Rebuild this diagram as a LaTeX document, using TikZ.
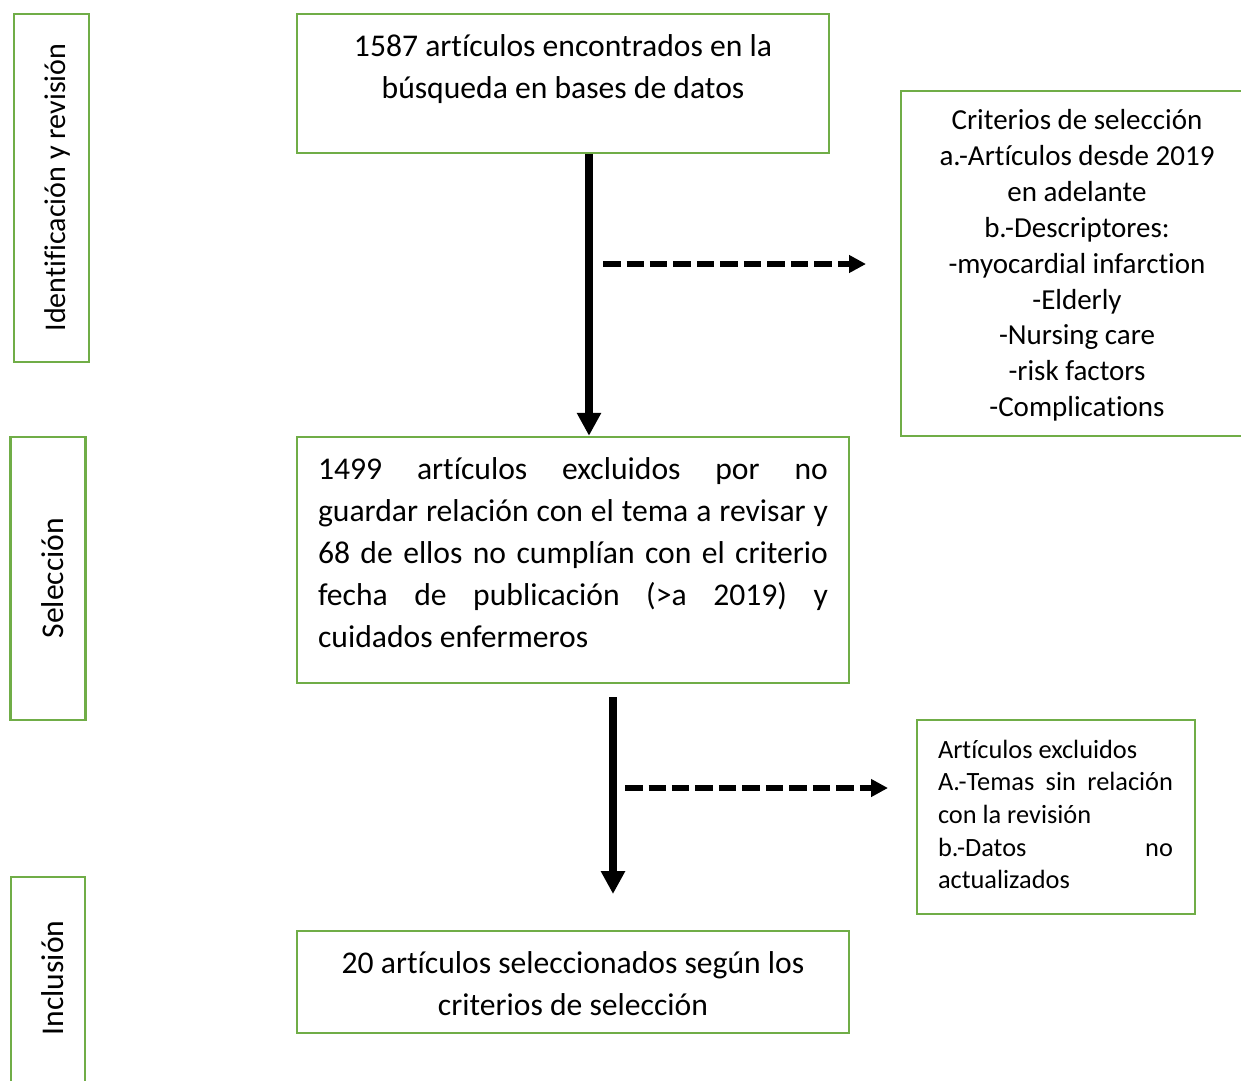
\documentclass[tikz,border=0pt]{standalone}
\usepackage{fontspec}
\setmainfont{Carlito}[Ligatures=NoCommon]
\usetikzlibrary{arrows.meta, positioning}

\begin{document}
\begin{tikzpicture}[
    x=0.02cm, y=-0.02cm,
    % Styles
    stagebox/.style={
        rectangle, draw=boxgreen, line width=1.4pt,
        minimum height=1.5cm, inner sep=0pt
    },
    flowbox/.style={
        rectangle, draw=boxgreen, line width=1.4pt, inner sep=0pt
    },
    stagetext/.style={
        rotate=90, font=\fontsize{18}{23.8}\selectfont, inner sep=0pt
    },
    flowtext/.style={
        font=\fontsize{18}{23.8}\selectfont, align=center, inner sep=0pt
    },
    arrow/.style={
        -{Triangle[length=0.46cm, width=0.46cm]}, line width=4.5pt
    },
    dasharrow/.style={
        -{Triangle[length=0.34cm, width=0.34cm]}, line width=3.4pt,
        dash pattern=on 0.35cm off 0.12cm
    },
]
% Define colors
\definecolor{boxgreen}{RGB}{112,173,71}

\useasboundingbox (0,0) rectangle (1241,1080);

% Stage labels
\node[stagebox, rotate=90, minimum width=6.96cm] (idbox) at (51.5,188) {};
\node[stagetext, font=\fontsize{17.1}{22}\selectfont] (idlabel) at (57,187.5) {Identificación y revisión};
\node[stagebox, rotate=90, minimum width=5.66cm] (selbox) at (48,578.5) {};
\node[stagetext] (sellabel) at (53,578) {Selección};
\node[stagebox, rotate=90, minimum width=4.16cm, minimum height=1.48cm] (incbox) at (48,981) {};
\node[stagetext] (inclabel) at (53,978) {Inclusión};

% Search
\node[flowbox, minimum width=10.64cm, minimum height=2.78cm] (search) at (563,83.5) {};
\node[flowtext] (searchtext) at (563,69) {1587 artículos encontrados en la\\búsqueda en bases de datos};

% Selection criteria
\node[flowbox, minimum width=6.98cm, minimum height=6.9cm] (criteria) at (1075.5,263.5) {};
\node[flowtext, font=\fontsize{16.5}{20.4}\selectfont] (criteriatext) at (1077,265.5)
    {Criterios de selección\\a.-Artículos desde 2019\\en adelante\\b.-Descriptores:\\-myocardial infarction\\-Elderly\\-Nursing care\\-risk factors\\-Complications};

% Excluded after screening
\node[flowbox, minimum width=11.04cm, minimum height=4.92cm] (excluded) at (573,560) {};
\node[flowtext, text width=10.2cm, align=justify] (excludedtext) at (573,552.5)
    {1499 artículos excluidos por no\linebreak guardar relación con el tema a revisar y\linebreak 68 de ellos no cumplían con el criterio\linebreak fecha de publicación (>a 2019) y\linebreak cuidados enfermeros};

% Reasons for exclusion
\node[flowbox, minimum width=5.56cm, minimum height=3.88cm] (reasons) at (1056,817) {};
\node[flowtext, font=\fontsize{15}{18.6}\selectfont, text width=4.7cm, align=justify] (reasonstext) at (1055.5,814.5)
    {Artículos excluidos\\A.-Temas sin relación\linebreak con la revisión\\b.-Datos no\linebreak actualizados};

% Included
\node[flowbox, minimum width=11.04cm, minimum height=2.04cm] (included) at (573,982) {};
\node[flowtext] (includedtext) at (573,984) {20 artículos seleccionados según los\\criterios de selección};

% Arrows
\coordinate (down1) at (589,0);
\draw[arrow] (search.south -| down1) -- (excluded.north -| down1);
\coordinate (side1) at (603,264);
\coordinate (side1end) at (866,264);
\draw[dasharrow] (side1) -- (side1end);
\coordinate (down2) at (613,697);
\coordinate (down2end) at (613,894);
\draw[arrow] (down2) -- (down2end);
\coordinate (side2) at (625,788);
\coordinate (side2end) at (888,788);
\draw[dasharrow] (side2) -- (side2end);

\end{tikzpicture}
\end{document}
